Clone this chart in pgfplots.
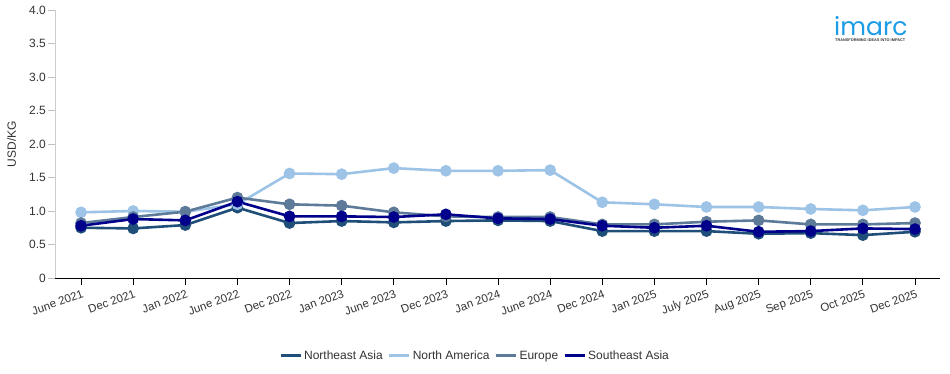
\documentclass[border=0pt]{standalone}
\usepackage{pgfplots}
\pgfplotsset{compat=1.18}
\usepackage{fontspec}
\setmainfont{Liberation Sans}
\newfontfamily\logofont{Poppins}
\definecolor{cNE}{HTML}{1F4E79}
\definecolor{cNA}{HTML}{9DC3E6}
\definecolor{cEU}{HTML}{5D7A99}
\definecolor{cSE}{HTML}{00008B}
\definecolor{ctxt}{HTML}{333333}
\definecolor{clogo}{HTML}{1C9BE6}
\begin{document}
\begin{tikzpicture}
\path[use as bounding box] (0,0) rectangle (950pt,373pt);
\begin{axis}[
  at={(55pt,95pt)}, anchor=south west, scale only axis,
  width=885pt, height=268pt,
  xmin=-0.5, xmax=16.48, ymin=0, ymax=4,
  axis x line=bottom, axis y line=left,
  x axis line style={-, black, line width=0.8pt},
  y axis line style={-, black!20, line width=0.8pt},
  xtick={0,...,16},
  xticklabels={June 2021,Dec 2021,Jan 2022,June 2022,Dec 2022,Jan 2023,June 2023,Dec 2023,Jan 2024,June 2024,Dec 2024,Jan 2025,July 2025,Aug 2025,Sep 2025,Oct 2025,Dec 2025},
  ytick={0,0.5,1,1.5,2,2.5,3,3.5,4},
  yticklabels={0,0.5,1.0,1.5,2.0,2.5,3.0,3.5,4.0},
  /pgf/number format/assume math mode=true,
  tick align=outside,
  major tick length=7pt,
  x tick style={black, line width=0.8pt},
  y tick style={black!25, line width=0.8pt},
  xticklabel style={font=\fontsize{11.5}{12}\selectfont, color=ctxt, rotate=20, anchor=north east, inner sep=1pt, yshift=-3pt},
  yticklabel style={font=\fontsize{12}{12}\selectfont, color=ctxt, inner sep=2pt},
  ylabel={USD/KG},
  ylabel style={font=\fontsize{12}{12}\selectfont, color=ctxt, at={(axis description cs:-0.049,0.5)}, anchor=center},
  legend columns=4,
  legend style={draw=none, font=\fontsize{12}{12}\selectfont, text=ctxt, at={(axis description cs:0.4746,-0.29)}, anchor=center, /tikz/every even column/.append style={column sep=3pt}},
  legend image code/.code={\draw[#1, mark=none, line width=3pt] (0pt,0pt) -- (20pt,0pt);},
  every axis plot/.append style={line width=2.6pt, mark=*, mark size=4.5pt},
  clip=false,
]
\addplot[color=cNE, mark options={fill=cNE, draw=cNE}] coordinates {
(0,0.75) (1,0.74) (2,0.79) (3,1.05) (4,0.82) (5,0.85) (6,0.83) (7,0.85) (8,0.86) (9,0.85) (10,0.70) (11,0.70) (12,0.70) (13,0.66) (14,0.67) (15,0.64) (16,0.69)};
\addlegendentry{Northeast Asia}
\addplot[color=cNA, mark options={fill=cNA, draw=cNA}] coordinates {
(0,0.98) (1,1.00) (2,0.99) (3,1.10) (4,1.56) (5,1.55) (6,1.64) (7,1.60) (8,1.60) (9,1.61) (10,1.13) (11,1.10) (12,1.06) (13,1.06) (14,1.03) (15,1.01) (16,1.06)};
\addlegendentry{North America}
\addplot[color=cEU, mark options={fill=cEU, draw=cEU}] coordinates {
(0,0.82) (1,0.91) (2,0.99) (3,1.20) (4,1.10) (5,1.08) (6,0.98) (7,0.92) (8,0.91) (9,0.91) (10,0.80) (11,0.80) (12,0.84) (13,0.86) (14,0.80) (15,0.80) (16,0.82)};
\addlegendentry{Europe}
\addplot[color=cSE, mark options={fill=cSE, draw=cSE}] coordinates {
(0,0.78) (1,0.88) (2,0.86) (3,1.14) (4,0.92) (5,0.92) (6,0.91) (7,0.95) (8,0.89) (9,0.88) (10,0.78) (11,0.75) (12,0.78) (13,0.69) (14,0.70) (15,0.74) (16,0.73)};
\addlegendentry{Southeast Asia}
\end{axis}
\node[anchor=base west, inner sep=0pt, text depth=0pt, text=clogo, font=\logofont\fontsize{25}{25}\selectfont] at (834pt,337pt) {imarc};
\node[anchor=north west, inner sep=0pt, text=black!80] at (835pt,334pt) {\resizebox{70pt}{!}{\bfseries TRANSFORMING IDEAS INTO IMPACT}};
\end{tikzpicture}
\end{document}
